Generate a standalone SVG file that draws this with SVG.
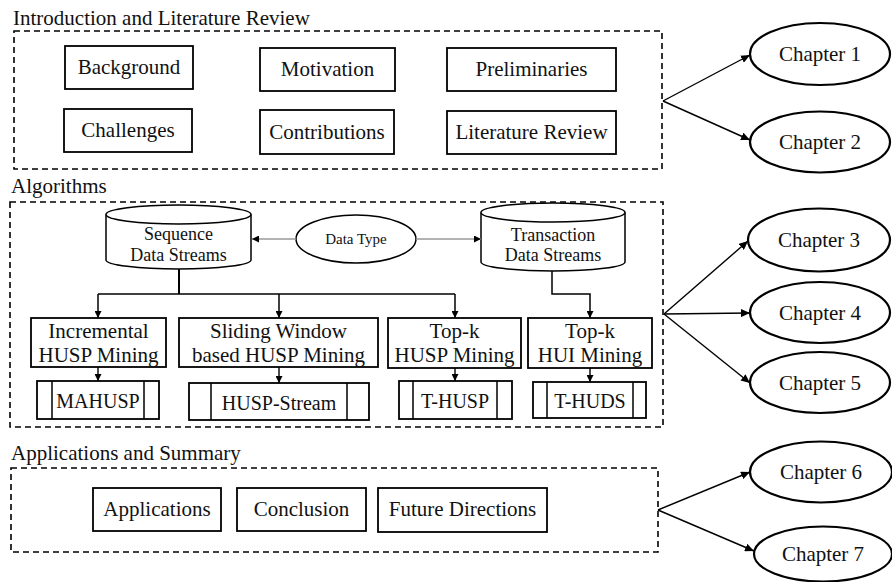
<svg xmlns="http://www.w3.org/2000/svg" width="892" height="582" viewBox="0 0 892 582">
  <defs>
    <marker id="arrow" markerUnits="userSpaceOnUse" markerWidth="10" markerHeight="8" refX="9" refY="4" orient="auto">
      <path d="M0,0 L9,4 L0,8 z" fill="#000"/>
    </marker>
    <marker id="arrowSmall" markerUnits="userSpaceOnUse" markerWidth="8" markerHeight="7" refX="7" refY="3.5" orient="auto">
      <path d="M0,0 L7,3.5 L0,7 z" fill="#000"/>
    </marker>
  </defs>
  <style>
    text { font-family: "Liberation Serif", "Times New Roman", serif; fill: #111; }
    .title { font-size: 21px; }
    .lbl { font-size: 21px; text-anchor: middle; }
    .cyl { font-size: 18px; text-anchor: middle; }
    .sub { font-size: 20px; text-anchor: middle; }
    .small { font-size: 15px; text-anchor: middle; }
    .group { fill: none; stroke: #000; stroke-width: 1.6; stroke-dasharray: 6 4; }
    .box { fill: #fff; stroke: #000; stroke-width: 1.8; }
    .chapter { fill: #fff; stroke: #000; stroke-width: 2.2; }
    .shape { fill: #fff; stroke: #000; stroke-width: 1.5; }
    .edge { fill: none; stroke: #000; stroke-width: 1.4; }
    .feed { fill: none; stroke: #000; stroke-width: 1.5; }
    .gray { fill: none; stroke: #999; stroke-width: 1.5; }
  </style>

  <!-- Section frames and headings -->
  <g id="section-intro">
    <text class="title" x="13" y="25">Introduction and Literature Review</text>
    <rect class="group" x="14" y="31" width="648" height="138"/>
  </g>
  <g id="section-algorithms">
    <text class="title" x="11" y="193">Algorithms</text>
    <rect class="group" x="10" y="202" width="653" height="225"/>
  </g>
  <g id="section-applications">
    <text class="title" x="11" y="460">Applications and Summary</text>
    <rect class="group" x="11" y="468" width="647" height="84"/>
  </g>

  <!-- Introduction topics -->
  <g id="background"><rect class="box" x="65" y="46" width="128" height="43"/><text class="lbl" x="129" y="74">Background</text></g>
  <g id="challenges"><rect class="box" x="64" y="109" width="128" height="43"/><text class="lbl" x="128" y="137">Challenges</text></g>
  <g id="motivation"><rect class="box" x="260" y="48" width="135" height="43"/><text class="lbl" x="327.5" y="76">Motivation</text></g>
  <g id="contributions"><rect class="box" x="260" y="110" width="134" height="44"/><text class="lbl" x="327" y="139">Contributions</text></g>
  <g id="preliminaries"><rect class="box" x="447" y="48" width="169" height="43"/><text class="lbl" x="531.5" y="76">Preliminaries</text></g>
  <g id="literature-review"><rect class="box" x="447" y="111" width="169" height="43"/><text class="lbl" x="531.5" y="139">Literature Review</text></g>

  <!-- Data sources -->
  <g id="sequence-streams">
    <path class="shape" d="M106,214.5 V260 A72.5,9 0 0 0 251,260 V214.5"/>
    <ellipse class="shape" cx="178.5" cy="214.5" rx="72.5" ry="9.5"/>
    <text class="cyl" x="178.5" y="240">Sequence</text>
    <text class="cyl" x="178.5" y="261">Data Streams</text>
  </g>
  <g id="transaction-streams">
    <path class="shape" d="M481,212.5 V262 A72,9 0 0 0 625,262 V212.5"/>
    <ellipse class="shape" cx="553" cy="212.5" rx="72" ry="9.5"/>
    <text class="cyl" x="553" y="241">Transaction</text>
    <text class="cyl" x="553" y="261">Data Streams</text>
  </g>
  <g id="data-type">
    <ellipse class="shape" cx="356" cy="239" rx="60" ry="24"/>
    <text class="small" x="356" y="244">Data Type</text>
  </g>

  <!-- Mining problems -->
  <g id="incremental">
    <rect class="box" x="31" y="318" width="135" height="49"/>
    <text class="lbl" x="98.5" y="338">Incremental</text>
    <text class="lbl" x="98.5" y="362">HUSP Mining</text>
  </g>
  <g id="sliding-window">
    <rect class="box" x="179" y="318" width="199" height="49"/>
    <text class="lbl" x="278.5" y="338">Sliding Window</text>
    <text class="lbl" x="278.5" y="362">based HUSP Mining</text>
  </g>
  <g id="topk-husp">
    <rect class="box" x="388" y="318" width="133" height="50"/>
    <text class="lbl" x="454.5" y="338">Top-k</text>
    <text class="lbl" x="454.5" y="362">HUSP Mining</text>
  </g>
  <g id="topk-hui">
    <rect class="box" x="528" y="318" width="124" height="50"/>
    <text class="lbl" x="590" y="338">Top-k</text>
    <text class="lbl" x="590" y="362">HUI Mining</text>
  </g>

  <!-- Algorithms (predefined-process boxes) -->
  <g id="mahusp">
    <rect class="box" x="37" y="381" width="122" height="38"/>
    <path class="feed" d="M52,381 V419 M144,381 V419"/>
    <text class="sub" x="98" y="408">MAHUSP</text>
  </g>
  <g id="husp-stream">
    <rect class="box" x="189" y="383" width="180" height="37"/>
    <path class="feed" d="M211,383 V420 M347,383 V420"/>
    <text class="sub" x="279" y="410">HUSP-Stream</text>
  </g>
  <g id="t-husp">
    <rect class="box" x="399" y="381" width="113" height="38"/>
    <path class="feed" d="M413,381 V419 M497,381 V419"/>
    <text class="sub" x="455" y="408">T-HUSP</text>
  </g>
  <g id="t-huds">
    <rect class="box" x="533" y="382" width="113" height="36"/>
    <path class="feed" d="M547,382 V418 M633,382 V418"/>
    <text class="sub" x="590" y="408">T-HUDS</text>
  </g>

  <!-- Applications topics -->
  <g id="applications"><rect class="box" x="93" y="488" width="128" height="43"/><text class="lbl" x="157" y="516">Applications</text></g>
  <g id="conclusion"><rect class="box" x="237" y="488" width="129" height="43"/><text class="lbl" x="301.5" y="516">Conclusion</text></g>
  <g id="future-directions"><rect class="box" x="378" y="488" width="169" height="44"/><text class="lbl" x="462.5" y="516">Future Directions</text></g>

  <!-- Chapters -->
  <g id="chapter-1"><ellipse class="chapter" cx="820" cy="54" rx="70" ry="31"/><text class="lbl" x="820" y="61">Chapter 1</text></g>
  <g id="chapter-2"><ellipse class="chapter" cx="820" cy="142" rx="70" ry="30.5"/><text class="lbl" x="820" y="149">Chapter 2</text></g>
  <g id="chapter-3"><ellipse class="chapter" cx="819" cy="240" rx="71" ry="31.5"/><text class="lbl" x="819" y="247">Chapter 3</text></g>
  <g id="chapter-4"><ellipse class="chapter" cx="820" cy="312.5" rx="70" ry="30.5"/><text class="lbl" x="820" y="319.5">Chapter 4</text></g>
  <g id="chapter-5"><ellipse class="chapter" cx="820" cy="382.5" rx="70" ry="30.5"/><text class="lbl" x="820" y="389.5">Chapter 5</text></g>
  <g id="chapter-6"><ellipse class="chapter" cx="821" cy="472" rx="71" ry="30.5"/><text class="lbl" x="821" y="479">Chapter 6</text></g>
  <g id="chapter-7"><ellipse class="chapter" cx="823" cy="554" rx="69" ry="27.5"/><text class="lbl" x="823" y="561">Chapter 7</text></g>

  <!-- Connectors -->
  <g id="connectors">
    <!-- data type to both stream kinds -->
    <line class="gray" x1="296" y1="239" x2="252" y2="239" marker-end="url(#arrowSmall)"/>
    <line class="gray" x1="416" y1="239" x2="481" y2="239" marker-end="url(#arrowSmall)"/>

    <!-- sequence streams fan out -->
    <line class="feed" x1="179" y1="269" x2="179" y2="294" style="stroke-width:2"/>
    <line class="feed" x1="98" y1="294" x2="455" y2="294"/>
    <line class="feed" x1="98" y1="294" x2="98" y2="318" marker-end="url(#arrowSmall)"/>
    <line class="feed" x1="279" y1="294" x2="279" y2="318" marker-end="url(#arrowSmall)"/>
    <line class="feed" x1="455" y1="294" x2="455" y2="318" marker-end="url(#arrowSmall)"/>

    <!-- transaction streams -->
    <polyline class="feed" points="552,271 552,294 590,294 590,318" marker-end="url(#arrowSmall)"/>

    <!-- problems to algorithms -->
    <line class="edge" x1="98" y1="367" x2="98" y2="381" marker-end="url(#arrowSmall)"/>
    <line class="edge" x1="279" y1="367" x2="279" y2="383" marker-end="url(#arrowSmall)"/>
    <line class="edge" x1="455" y1="368" x2="455" y2="381" marker-end="url(#arrowSmall)"/>
    <line class="edge" x1="590" y1="368" x2="590" y2="382" marker-end="url(#arrowSmall)"/>

    <!-- sections to chapters -->
    <line class="edge" x1="663" y1="101" x2="750" y2="55" marker-end="url(#arrow)"/>
    <line class="edge" x1="663" y1="101" x2="750" y2="140" marker-end="url(#arrow)"/>
    <line class="edge" x1="664" y1="314" x2="748" y2="241" marker-end="url(#arrow)"/>
    <line class="edge" x1="664" y1="314" x2="750" y2="313" marker-end="url(#arrow)"/>
    <line class="edge" x1="664" y1="314" x2="750" y2="383" marker-end="url(#arrow)"/>
    <line class="edge" x1="658" y1="510" x2="750" y2="472" marker-end="url(#arrow)"/>
    <line class="edge" x1="658" y1="510" x2="754" y2="551" marker-end="url(#arrow)"/>
  </g>
</svg>
